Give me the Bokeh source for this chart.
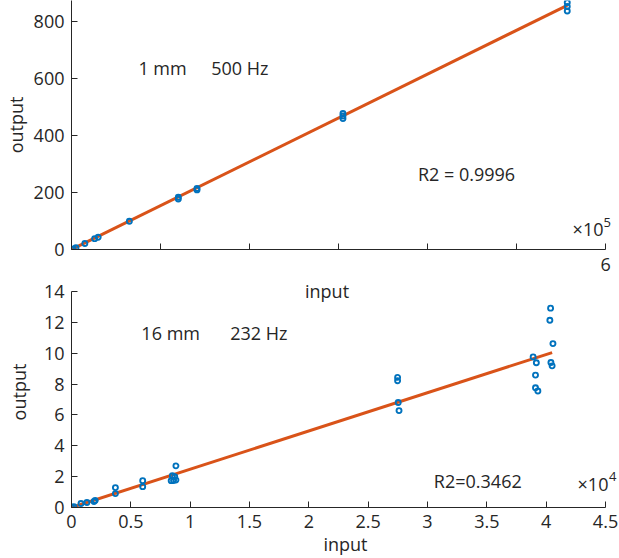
from bokeh.plotting import figure
from bokeh.models import Label, FixedTicker
from bokeh.layouts import column
from bokeh.embed import file_html
from bokeh.resources import INLINE

# ---------------- data ----------------
top_x = [2000, 5000, 15000, 26000, 30000, 65000, 120000, 120000, 141000, 141000,
         305000, 305000, 305000, 557000, 557000, 557000]
top_y = [2, 6, 21, 38, 43, 99, 183, 177, 214, 209, 477, 468, 459, 866, 852, 836]
top_fit_x = [0, 557000]
top_fit_y = [0, 856]

bot_x = [0, 200, 800, 1300, 1900, 2000, 3700, 3700, 6000, 6000,
         8400, 8500, 8600, 8700, 8800, 8800,
         27480, 27480, 27530, 27600,
         38900, 39170, 39100, 39100, 39300,
         40370, 40310, 40570, 40400, 40500]
bot_y = [0.02, 0.05, 0.26, 0.32, 0.39, 0.45, 1.29, 0.9, 1.74, 1.35,
         1.74, 2.06, 1.75, 2.0, 2.7, 1.78,
         8.43, 8.21, 6.8, 6.28,
         9.76, 9.38, 8.58, 7.76, 7.55,
         12.92, 12.13, 10.62, 9.4, 9.18]
bot_fit_x = [0, 40500]
bot_fit_y = [0, 10.04]

top_xticks = [0, 100000, 200000, 300000, 400000, 500000, 600000]
top_xtick_labels = ["", "", "", "", "", "", "6"]
top_yticks = [0, 200, 400, 600, 800]
bot_xticks = [0, 5000, 10000, 15000, 20000, 25000, 30000, 35000, 40000, 45000]
bot_xtick_labels = ["0", "0.5", "1", "1.5", "2", "2.5", "3", "3.5", "4", "4.5"]
bot_yticks = [0, 2, 4, 6, 8, 10, 12, 14]

# ---------------- style ----------------
FONT = "Open Sans"
TXT = "#262626"
BLUE = "#0072BD"
ORANGE = "#D95319"
FS = "18px"


def style(p):
    p.outline_line_color = None
    p.xgrid.visible = False
    p.ygrid.visible = False
    p.background_fill_color = "white"
    p.border_fill_color = "white"
    for ax in list(p.xaxis) + list(p.yaxis):
        ax.axis_line_color = TXT
        ax.axis_line_width = 1
        ax.major_tick_line_color = TXT
        ax.major_tick_in = 6
        ax.major_tick_out = 0
        ax.minor_tick_line_color = None
        ax.minor_tick_in = 0
        ax.minor_tick_out = 0
        ax.major_label_text_font = FONT
        ax.major_label_text_font_size = FS
        ax.major_label_text_color = TXT
        ax.axis_label_text_font = FONT
        ax.axis_label_text_font_size = FS
        ax.axis_label_text_font_style = "normal"
        ax.axis_label_text_color = TXT


def label(p, x, y, text, size=FS, align="left", baseline="middle"):
    p.add_layout(Label(x=x, y=y, text=text, text_font=FONT, text_font_size=size,
                       text_color=TXT, text_align=align, text_baseline=baseline))


# ---------------- top panel ----------------
# frame spans 70..619 px horizontally; the axis itself stops at 6e5 (605 px)
p1 = figure(width=619, height=276, x_range=(0, 615700), y_range=(0, 873),
            output_backend="svg", toolbar_location=None,
            min_border_left=70, min_border_right=0, min_border_top=0, min_border_bottom=27)
style(p1)
p1.xaxis.ticker = FixedTicker(ticks=top_xticks)
p1.xaxis.bounds = (0, 600000)
p1.xaxis.major_label_overrides = {t: l for t, l in zip(top_xticks, top_xtick_labels)}
p1.xaxis.major_label_standoff = 8
p1.yaxis.ticker = FixedTicker(ticks=top_yticks)
p1.yaxis.axis_label = "output"
p1.yaxis.major_label_standoff = 7
p1.yaxis.axis_label_standoff = 3

p1.line(top_fit_x, top_fit_y, line_color=ORANGE, line_width=3)
p1.scatter(top_x, top_y, marker="circle", size=5, fill_color=None,
           line_color=BLUE, line_width=1.9)

label(p1, 75140, 638, "1 mm")
label(p1, 157000, 638, "500 Hz")
label(p1, 389200, 266, "R2 = 0.9996")
label(p1, 563000, 73, "\u00d710")
label(p1, 597800, 95, "5", size="13px")

# ---------------- bottom panel ----------------
# frame spans 70..619 px and 276..508 px; axes stop at 4.5e4 and 14
p2 = figure(width=619, height=282, x_range=(0, 46178), y_range=(0, 14.97),
            output_backend="svg", toolbar_location=None,
            min_border_left=70, min_border_right=0, min_border_top=0, min_border_bottom=50)
style(p2)
p2.xaxis.ticker = FixedTicker(ticks=bot_xticks)
p2.xaxis.bounds = (0, 45000)
p2.xaxis.major_label_overrides = {t: l for t, l in zip(bot_xticks, bot_xtick_labels)}
p2.xaxis.major_label_standoff = 7
p2.xaxis.axis_label = "input"
p2.xaxis.axis_label_standoff = 1
p2.yaxis.ticker = FixedTicker(ticks=bot_yticks)
p2.yaxis.bounds = (0, 14)
p2.yaxis.axis_label = "output"
p2.yaxis.major_label_standoff = 7
p2.yaxis.axis_label_standoff = 10

p2.line(bot_fit_x, bot_fit_y, line_color=ORANGE, line_width=3)
p2.scatter(bot_x, bot_y, marker="circle", size=5, fill_color=None,
           line_color=BLUE, line_width=1.9)

label(p2, 5888, 11.29, "16 mm")
label(p2, 13370, 11.29, "232 Hz")
label(p2, 30533, 1.74, "R2=0.3462")
label(p2, 21533, 14.06, "input", align="center")
label(p2, 42645, 1.55, "\u00d710")
label(p2, 45300, 2.0, "4", size="13px")

layout = column(p1, p2, spacing=0)

open("out.html", "w").write(file_html(layout, INLINE))
